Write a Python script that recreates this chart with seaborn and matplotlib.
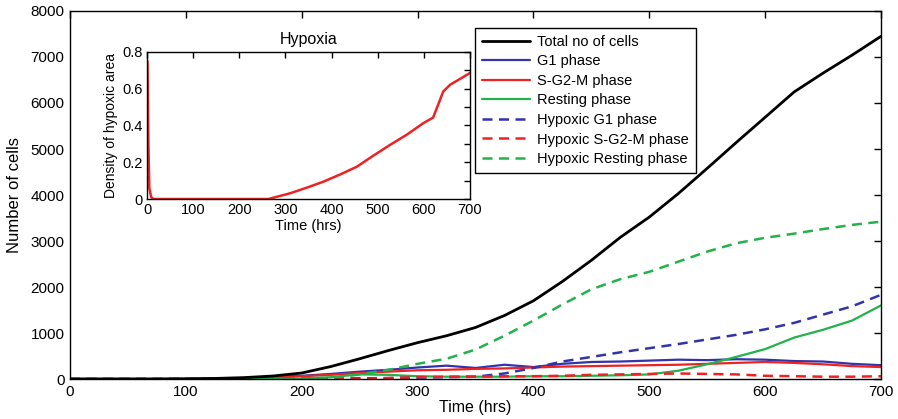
import numpy as np
import pandas as pd
import matplotlib
matplotlib.use("Agg")
import matplotlib.pyplot as plt
import seaborn as sns

# ---------------- data ----------------
time_hrs = [0, 25, 50, 75, 100, 125, 150, 175, 200, 225, 250, 275, 300, 325, 350,
            375, 400, 425, 450, 475, 500, 525, 550, 575, 600, 625, 650, 675, 700]

total_cells = [0, 0, 0, 0, 5, 12, 30, 65, 130, 270, 440, 620, 790, 940, 1120,
               1380, 1700, 2120, 2580, 3080, 3520, 4030, 4580, 5140, 5690, 6240, 6650, 7040, 7450]
g1_phase = [0, 0, 0, 0, 0, 5, 20, 40, 70, 110, 160, 200, 250, 290, 240,
            310, 260, 330, 370, 380, 400, 420, 410, 430, 420, 390, 380, 330, 300]
sg2m_phase = [0, 0, 0, 0, 0, 5, 15, 35, 60, 90, 130, 160, 190, 200, 220,
              230, 250, 270, 280, 290, 300, 310, 330, 350, 370, 350, 320, 280, 260]
resting_phase = [0, 0, 0, 0, 0, 0, 0, 0, 10, 40, 100, 90, 60, 50, 50,
                 50, 60, 60, 70, 80, 100, 180, 320, 480, 650, 900, 1070, 1270, 1600]
hyp_g1_phase = [0, 0, 0, 0, 0, 0, 0, 0, 5, 10, 15, 20, 30, 40, 50,
                120, 240, 380, 480, 580, 670, 760, 860, 960, 1080, 1220, 1400, 1580, 1830]
hyp_sg2m_phase = [0, 0, 0, 0, 0, 0, 0, 0, 0, 0, 0, 20, 40, 50, 50,
                  60, 60, 70, 90, 100, 110, 120, 110, 100, 70, 60, 50, 50, 60]
hyp_resting_phase = [0, 0, 0, 0, 0, 0, 0, 0, 0, 20, 100, 200, 330, 440, 640,
                     940, 1270, 1620, 1950, 2170, 2330, 2550, 2770, 2950, 3070, 3160, 3260, 3350, 3420]

series_labels = ["Total no of cells", "G1 phase", "S-G2-M phase", "Resting phase",
                 "Hypoxic G1 phase", "Hypoxic S-G2-M phase", "Hypoxic Resting phase"]

hypoxia_time = [1, 3, 5, 9, 14, 50, 100, 150, 200, 263, 310, 350, 382, 420, 455,
                490, 527, 563, 599, 620, 632, 642, 657, 678, 700]
hypoxia_density = [0.75, 0.30, 0.06, 0.01, 0.0, 0.0, 0.0, 0.0, 0.0, 0.0, 0.031, 0.065, 0.094, 0.135, 0.176,
                   0.235, 0.295, 0.35, 0.413, 0.443, 0.52, 0.585, 0.622, 0.653, 0.686]

main_xticks = [0, 100, 200, 300, 400, 500, 600, 700]
main_yticks = [0, 1000, 2000, 3000, 4000, 5000, 6000, 7000, 8000]
inset_yticks = [0, 0.2, 0.4, 0.6, 0.8]
inset_yticklabels = ["0", "0.2", "0.4", "0.6", "0.8"]

# ---------------- style ----------------
sns.set_theme(style="white")
plt.rcParams["font.family"] = ["Liberation Sans", "DejaVu Sans"]
plt.rcParams["axes.edgecolor"] = "black"
plt.rcParams["axes.linewidth"] = 1.0
plt.rcParams["xtick.color"] = "black"
plt.rcParams["ytick.color"] = "black"
plt.rcParams["text.color"] = "black"
plt.rcParams["axes.labelcolor"] = "black"

BLACK = "#000000"
BLUE = "#3333aa"
RED = "#ee2222"
GREEN = "#22b24a"
DASH = (0, (4.0, 2.6))

fig = plt.figure(figsize=(8.98, 4.19), dpi=100)
ax = fig.add_axes([70 / 898, 1 - 379 / 419, 811 / 898, 368 / 419])

df = pd.DataFrame({"t": time_hrs})
series = [total_cells, g1_phase, sg2m_phase, resting_phase,
          hyp_g1_phase, hyp_sg2m_phase, hyp_resting_phase]
colors = [BLACK, BLUE, RED, GREEN, BLUE, RED, GREEN]
styles = ["-", "-", "-", "-", DASH, DASH, DASH]
widths = [2.0, 1.6, 1.6, 1.6, 1.8, 1.8, 1.8]

for lab, vals, c, ls, lw in zip(series_labels, series, colors, styles, widths):
    sns.lineplot(x=time_hrs, y=vals, ax=ax, color=c, linestyle=ls, linewidth=lw,
                 label=lab, zorder=3 if lab == "Total no of cells" else 2)

ax.set_xlim(0, 700)
ax.set_ylim(0, 8000)
ax.set_xticks(main_xticks)
ax.set_yticks(main_yticks)
ax.tick_params(direction="in", length=5, width=1, top=True, right=True,
               labelsize=11, pad=4)
ax.set_xlabel("Time (hrs)", fontsize=11.5, labelpad=1)
ax.set_ylabel("Number of cells", fontsize=12, labelpad=6)

leg = ax.legend(loc="upper left", bbox_to_anchor=(0.5, 0.953), fontsize=10.5,
                frameon=True, fancybox=False, edgecolor="black", framealpha=1,
                handlelength=3.3, labelspacing=0.38, borderpad=0.45,
                handletextpad=0.5, borderaxespad=0)
leg.get_frame().set_linewidth(1.0)

# ---------------- inset ----------------
axi = fig.add_axes([147 / 898, 1 - 199 / 419, 323 / 898, 147 / 419])
sns.lineplot(x=hypoxia_time, y=hypoxia_density, ax=axi, color=RED, linewidth=1.8)
axi.set_xlim(0, 700)
axi.set_ylim(0, 0.8)
axi.set_xticks(main_xticks)
axi.set_yticks(inset_yticks)
axi.set_yticklabels(inset_yticklabels)
axi.set_yticks([0.1, 0.3, 0.5, 0.7], minor=True)
axi.tick_params(which="both", direction="in", length=4, width=1, top=True, right=True,
                labelsize=10.5, pad=3)
axi.set_xlabel("Time (hrs)", fontsize=10.5, labelpad=1)
axi.set_ylabel("Density of hypoxic area", fontsize=10, labelpad=3)
axi.set_title("Hypoxia", fontsize=11.5, pad=6)

fig.savefig("out.png", dpi=100)
